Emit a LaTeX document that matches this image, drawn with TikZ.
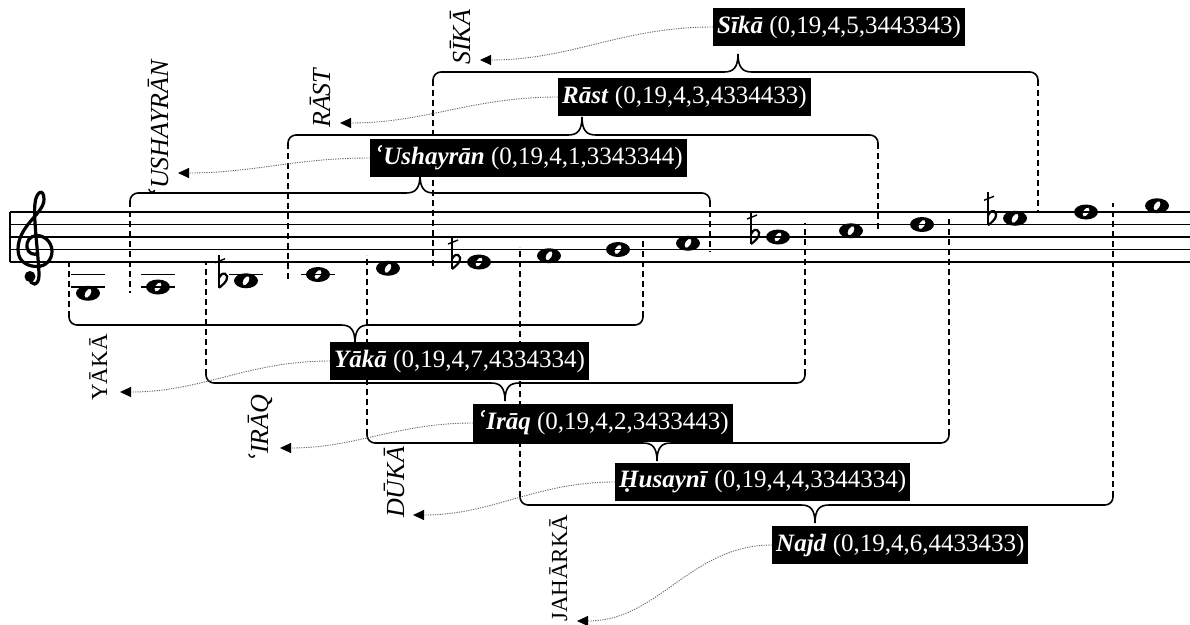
\documentclass[tikz,border=0pt]{standalone}
\usepackage{fontspec}
\setmainfont{Liberation Serif}
\newfontfamily\dvserif{DejaVu Serif}
\usetikzlibrary{arrows.meta}
\newcommand{\ayn}{{\dvserif ʿ}}
\newcommand{\mq}[2]{\textbf{\textit{#1}} (#2)}
\tikzset{
  staffline/.style={line width=1.6pt},
  ledgerline/.style={line width=1.6pt},
  sep/.style={dash pattern=on 6pt off 4pt, line width=1.3pt},      % dashed drop to the staff
  brk/.style={line width=1.6pt},                                     % bracket over one octave
  lbl/.style={fill=black, text=white, inner sep=4pt, minimum height=38pt, anchor=west,
              font=\fontsize{25}{28}\selectfont},
  nm/.style={rotate=90, anchor=base west, inner sep=0pt, font=\fontsize{26}{28}\selectfont\itshape},
  nmup/.style={nm, font=\fontsize{23}{26}\selectfont\upshape},
  lead/.style={dash pattern=on 1.2pt off 1.2pt, gray!80!black, line width=0.9pt,
               -{Triangle[length=11pt,width=10pt,color=black]}},
}
\newcommand{\wnote}[2]{%
  \begin{scope}[shift={(#1,#2)}]
    \fill[even odd rule] (0,0) ellipse [x radius=12pt, y radius=7.5pt]
      [rotate=60] (0,0) ellipse [x radius=5pt, y radius=2.8pt];
  \end{scope}}
\newcommand{\hflat}[2]{%
  \begin{scope}[shift={(#1-27,#2)}]
    \draw[line width=1.4pt] (0,-26) -- (0,7);
    \draw[line width=2.2pt] (0,7) .. controls (7,2) and (11,-4) .. (6,-7) .. controls (3,-8) and (1,-5) .. (0,-3);
    \draw[line width=1.4pt] (-4,-18) -- (6,-22);
  \end{scope}}
\newcommand{\upbr}[6]{%
  \draw[sep] (#1,#3+8) -- (#1,#5);
  \draw[sep] (#2,#3+8) -- (#2,#6);
  \draw[brk,rounded corners=8pt] (#1,#3+8) -- (#1,#3) -- (#4-14,#3);
  \draw[brk] (#4-14,#3) .. controls (#4-5,#3) and (#4,#3-4) .. (#4,#3-18)
             .. controls (#4,#3-4) and (#4+5,#3) .. (#4+14,#3);
  \draw[brk,rounded corners=8pt] (#4+14,#3) -- (#2,#3) -- (#2,#3+8);}
\newcommand{\lowbr}[6]{%
  \draw[sep] (#1,#3-8) -- (#1,#5);
  \draw[sep] (#2,#3-8) -- (#2,#6);
  \draw[brk,rounded corners=8pt] (#1,#3-8) -- (#1,#3) -- (#4-14,#3);
  \draw[brk] (#4-14,#3) .. controls (#4-5,#3) and (#4,#3+4) .. (#4,#3+18)
             .. controls (#4,#3+4) and (#4+5,#3) .. (#4+14,#3);
  \draw[brk,rounded corners=8pt] (#4+14,#3) -- (#2,#3) -- (#2,#3-8);}

\begin{document}
\begin{tikzpicture}[x=1pt,y=-1pt]
  \useasboundingbox (0,0) rectangle (1190,624);
  \def\Ebot{262}\def\hs{6.25}

  % staff
  \foreach \l in {0,...,4}{\draw[staffline] (10,\Ebot-2*\hs*\l) -- (1190,\Ebot-2*\hs*\l);}
  \draw[staffline] (10,\Ebot) -- (10,\Ebot-8*\hs);

  % treble clef, centred on the G line
  \begin{scope}[shift={(34,249.5)}]
    \draw[line width=3.2pt, line cap=round]
      (-4,28) .. controls (-4,37) and (5,37) .. (5,26)
      .. controls (5,10) and (-1,-32) .. (1,-46)
      .. controls (2,-58) and (10,-62) .. (10,-50)
      .. controls (10,-36) and (-16,-24) .. (-16,0)
      .. controls (-16,14) and (-4,17) .. (3,17)
      .. controls (12,17) and (18,10) .. (18,2)
      .. controls (18,-8) and (10,-14) .. (3,-14)
      .. controls (-4,-14) and (-8,-8) .. (-7,-2)
      .. controls (-6,4) and (0,6) .. (4,4);
    \fill (-4,27) circle [radius=5.5pt];
  \end{scope}

  % ledger lines
  \foreach \x/\y in {88/274.5, 88/287, 158/274.5, 158/287, 246/274.5, 318/274.5}
    {\draw[ledgerline] (\x-17,\y) -- (\x+17,\y);}

  % notes: x / steps above E4 / half-flat
  \foreach \x/\k/\f in {88/-5/0, 158/-4/0, 246/-3/1, 318/-2/0, 388/-1/0, 479/0/1, 549/1/0,
      618/2/0, 688/3/0, 778/4/1, 851/5/0, 922/6/0, 1015/7/1, 1086/8/0, 1157/9/0}{
    \wnote{\x}{\Ebot-\hs*\k}
    \ifnum\f=1 \hflat{\x}{\Ebot-\hs*\k}\fi
  }

  % octave brackets above the staff
  \upbr{130}{710}{193}{420}{293}{252}
  \upbr{288}{878}{135}{582}{280}{232}
  \upbr{433}{1038}{72}{738}{268}{212}
  % octave brackets below the staff
  \lowbr{69}{643}{325}{355}{260}{237}
  \lowbr{206}{805}{383}{505}{262}{223}
  \lowbr{367}{949}{443}{657}{255}{217}
  \lowbr{520}{1113}{505}{815}{247}{203}

  % maqam boxes
  \node[lbl] (sika)     at (713,27)  {\mq{Sīkā}{0,19,4,5,3443343}};
  \node[lbl] (rast)     at (558,97)  {\mq{Rāst}{0,19,4,3,4334433}};
  \node[lbl] (ushayran) at (370,158) {\mq{\ayn Ushayrān}{0,19,4,1,3343344}};
  \node[lbl] (yaka)     at (330,361) {\mq{Yākā}{0,19,4,7,4334334}};
  \node[lbl] (iraq)     at (473,423) {\mq{\ayn Irāq}{0,19,4,2,3433443}};
  \node[lbl] (husayni)  at (615,482) {\mq{Ḥusaynī}{0,19,4,4,3344334}};
  \node[lbl] (najd)     at (772,545) {\mq{Najd}{0,19,4,6,4433433}};

  % degree names
  \node[nm]   (SIKA)     at (470,65)  {SĪKĀ};
  \node[nm]   (RAST)     at (330,128) {RĀST};
  \node[nm]   (USHAYRAN) at (168,197) {\ayn USHAYRĀN};
  \node[nmup] (YAKA)     at (107,401) {YĀKĀ};
  \node[nm]   (IRAQ)     at (268,462) {\ayn IRĀQ};
  \node[nm]   (DUKA)     at (404,518) {DŪKĀ};
  \node[nmup] (JAHARKA)  at (567,622) {JAHĀRKĀ};

  \coordinate (tSika)     at (480,60);
  \coordinate (tRast)     at (340,123);
  \coordinate (tUshayran) at (178,173);
  \coordinate (tYaka)     at (120,392);
  \coordinate (tIraq)     at (280,448);
  \coordinate (tDuka)     at (413,515);
  \coordinate (tJaharka)  at (577,621);

  \foreach \a/\b in {sika/tSika, rast/tRast, ushayran/tUshayran, yaka/tYaka,
                     iraq/tIraq, husayni/tDuka, najd/tJaharka}
    {\draw[lead] (\a.west) to[out=180,in=0] (\b);}
\end{tikzpicture}
\end{document}
